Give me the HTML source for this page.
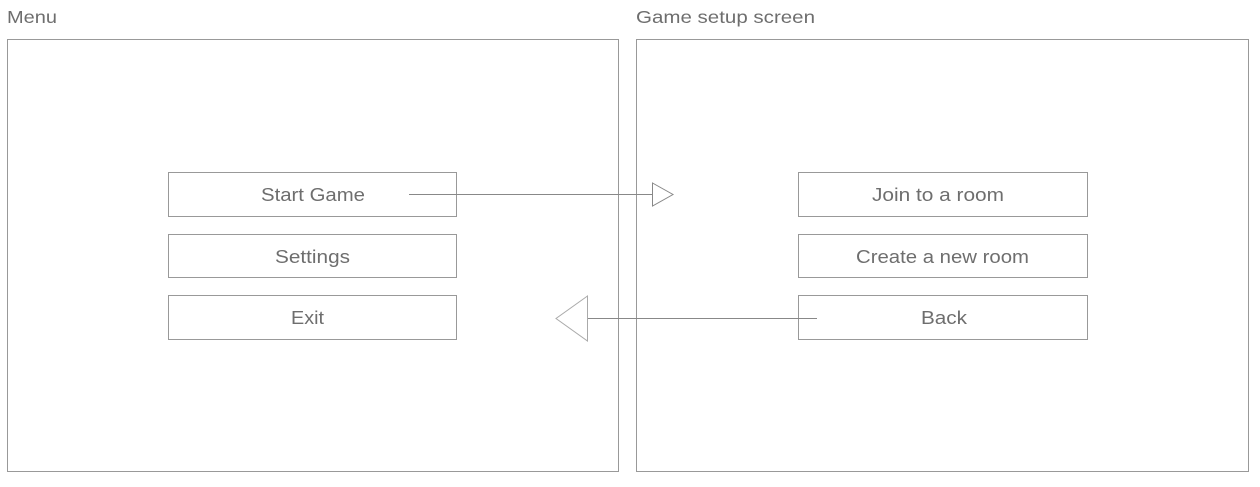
<!DOCTYPE html>
<html><head><style>
body{margin:0;background:#fff;}
svg text{font-family:"Liberation Sans",sans-serif;fill:#6e6e6e;}
</style></head><body>
<svg width="1260" height="482" xmlns="http://www.w3.org/2000/svg">
<g fill="none" stroke="#999" stroke-width="1">
<rect x="7.5" y="39.5" width="611" height="432"/>
<rect x="636.5" y="39.5" width="612" height="432"/>
<rect x="168.5" y="172.5" width="288" height="44"/>
<rect x="168.5" y="234.5" width="288" height="43"/>
<rect x="168.5" y="295.5" width="288" height="44"/>
<rect x="798.5" y="172.5" width="289" height="44"/>
<rect x="798.5" y="234.5" width="289" height="43"/>
<rect x="798.5" y="295.5" width="289" height="44"/>
</g>
<g fill="none" stroke="#888" stroke-width="1">
<line x1="409" y1="194.5" x2="652" y2="194.5"/>
<polygon points="652.5,183 673,194.5 652.5,206" fill="#fff"/>
<line x1="817" y1="318.5" x2="587" y2="318.5"/>
<polygon points="587.5,296 556,318.5 587.5,341" fill="#fff" stroke="#aaa"/>
</g>
<text x="7" y="23" font-size="17.5" textLength="50" lengthAdjust="spacingAndGlyphs">Menu</text>
<text x="636" y="23" font-size="17.5" textLength="179" lengthAdjust="spacingAndGlyphs">Game setup screen</text>
<g font-size="18.5">
<text x="261" y="201" textLength="104" lengthAdjust="spacingAndGlyphs">Start Game</text>
<text x="275" y="263" textLength="75" lengthAdjust="spacingAndGlyphs">Settings</text>
<text x="291" y="324" textLength="33" lengthAdjust="spacingAndGlyphs">Exit</text>
<text x="872" y="201" textLength="132" lengthAdjust="spacingAndGlyphs">Join to a room</text>
<text x="856" y="263" textLength="173" lengthAdjust="spacingAndGlyphs">Create a new room</text>
<text x="921" y="324" textLength="46" lengthAdjust="spacingAndGlyphs">Back</text>
</g>
</svg>
</body></html>
